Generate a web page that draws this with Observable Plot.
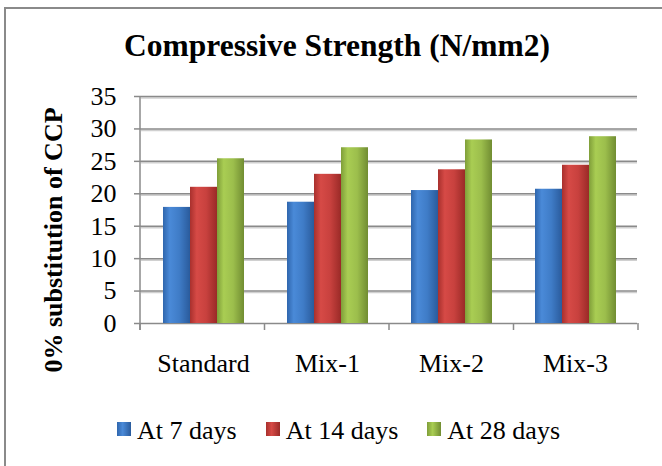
<!DOCTYPE html>
<html><head><meta charset="utf-8">
<script src="https://cdn.jsdelivr.net/npm/d3@7"></script>
<script src="https://cdn.jsdelivr.net/npm/@observablehq/plot@0.6"></script>
<style>
html,body{margin:0;padding:0;background:#fff;overflow:hidden;width:662px;height:466px;}
body{position:relative;font-family:"Liberation Serif","Times New Roman",serif;}
#frame{position:absolute;left:4px;top:7px;width:720px;height:520px;border:2px solid #8a8a8a;box-sizing:border-box;}
#chart{position:absolute;left:0;top:0;}
#title{position:absolute;left:0;width:674px;top:28px;text-align:center;font-weight:bold;font-size:31.5px;line-height:36px;white-space:nowrap;}
#ytitle{position:absolute;left:-96px;top:225px;width:300px;height:30px;line-height:30px;text-align:center;font-weight:bold;font-size:26px;transform:rotate(-90deg);white-space:nowrap;}
#legend{position:absolute;left:117px;top:416px;font-size:26px;line-height:30px;white-space:nowrap;}
#legend .item{display:inline-block;margin-right:29px;}
#legend .sw{display:inline-block;width:14px;height:14px;vertical-align:3px;margin-right:6px;}
g[aria-label="y-axis tick"] path{stroke:#8a8a8a;stroke-width:1.5px;}
</style></head>
<body>
<div id="frame"></div>
<div id="chart"></div>
<div id="title">Compressive Strength (N/mm2)</div>
<div id="ytitle">0% substitution of CCP</div>
<div id="legend"></div>
<script>
const categories = ["Standard", "Mix-1", "Mix-2", "Mix-3"];
const series = ["At 7 days", "At 14 days", "At 28 days"];
const at7days = [17.9, 18.7, 20.5, 20.7];
const at14days = [21.0, 23.0, 23.7, 24.4];
const at28days = [25.4, 27.1, 28.3, 28.8];
const yTicks = [0, 5, 10, 15, 20, 25, 30, 35];

const seriesValues = [at7days, at14days, at28days];
const gradIds = ["gBlue", "gRed", "gGreen"];
const gradStops = [
  ["#2f66ad", "#4a8ad8", "#3f7cc7", "#2a5b9c"],
  ["#a8302d", "#d64a46", "#c8413e", "#9a2a27"],
  ["#7f9e39", "#a9cd53", "#9cbe4c", "#718d32"]
];

const rows = [];
categories.forEach((c, i) => series.forEach((s, j) => rows.push({cat: c, series: s, value: seriesValues[j][i]})));

const chart = Plot.plot({
  width: 662, height: 390,
  marginLeft: 140, marginRight: 24, marginTop: 96, marginBottom: 67,
  style: {fontFamily: "'Liberation Serif','Times New Roman',serif", fontSize: "26px", color: "#000", background: "transparent", overflow: "visible"},
  fx: {domain: categories, padding: 0, label: null, tickSize: 0, tickPadding: 30, axis: "bottom"},
  x: {domain: series, paddingInner: 0, paddingOuter: 0.745, axis: null},
  y: {domain: [0, 35], ticks: yTicks, tickSize: 7, tickPadding: 18, label: null},
  color: {domain: series, range: gradIds.map(id => `url(#${id})`)},
  marks: [
    Plot.ruleY(yTicks.filter(d => d > 0), {stroke: "#d0d0d0", strokeWidth: 1.5, dy: 1.5}),
    Plot.ruleY(yTicks, {stroke: "#8a8a8a", strokeWidth: 1.5}),
    Plot.barY(rows, {fx: "cat", x: "series", y: "value", fill: "series"})
  ]
});
document.getElementById("chart").appendChild(chart);

const svg = d3.select(chart);
const defs = svg.insert("defs", ":first-child");
gradIds.forEach((id, k) => {
  const lg = defs.append("linearGradient").attr("id", id).attr("x1", 0).attr("x2", 1).attr("y1", 0).attr("y2", 0);
  [0, 0.25, 0.6, 1].forEach((o, m) => lg.append("stop").attr("offset", o).attr("stop-color", gradStops[k][m]));
});

// axis line and category boundary ticks from the library's scales
const fxS = chart.scale("fx"), yS = chart.scale("y");
const yScale = d3.scaleLinear(yS.domain, yS.range);
const fxBand = d3.scaleBand(fxS.domain, fxS.range).padding(0);
const g = svg.append("g").attr("stroke", "#8a8a8a").attr("stroke-width", 1.5);
const xs = fxS.range;
const y0 = yScale(0);
g.append("line").attr("x1", xs[0]).attr("x2", xs[0]).attr("y1", yScale(d3.max(yTicks))).attr("y2", y0 + 7);
categories.concat([null]).forEach(c => {
  const x = c == null ? xs[1] : fxBand(c);
  g.append("line").attr("x1", x).attr("x2", x).attr("y1", y0).attr("y2", y0 + 7);
});

// legend
const legend = d3.select("#legend");
series.forEach((s, k) => {
  const it = legend.append("span").attr("class", "item");
  it.append("span").attr("class", "sw").style("background", `linear-gradient(90deg, ${gradStops[k][0]}, ${gradStops[k][1]} 40%, ${gradStops[k][3]})`);
  it.append("span").text(s);
});
</script>
</body></html>
